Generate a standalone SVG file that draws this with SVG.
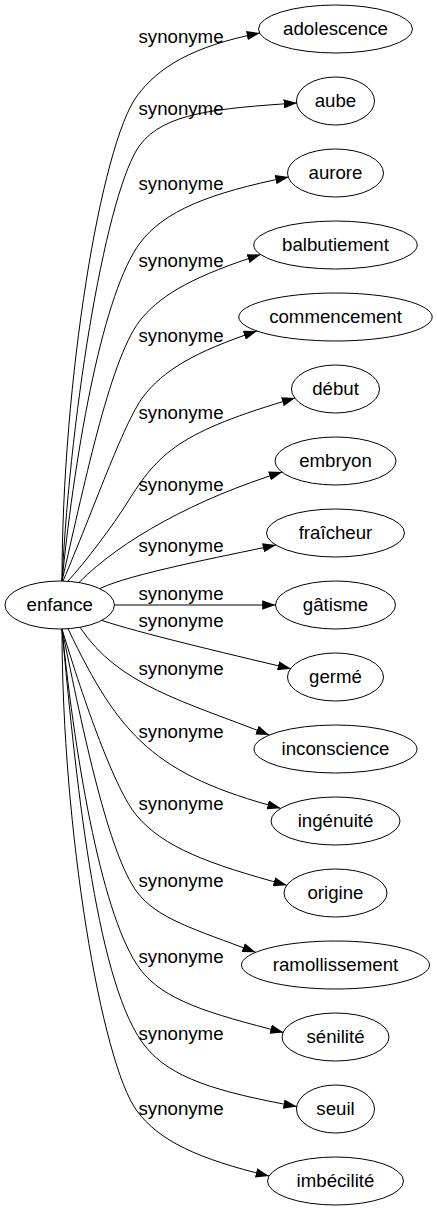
<svg xmlns="http://www.w3.org/2000/svg" width="437" height="1211" viewBox="0 0 437 1211">
<style>
.node ellipse{fill:none;stroke:#000;stroke-width:1}
.node text{font-family:"Liberation Sans",Arial,sans-serif;font-size:18.67px;fill:#000;text-anchor:middle}
.edge{fill:none;stroke:#000;stroke-width:1;marker-end:url(#arr)}
.lbl{font-family:"Liberation Sans",Arial,sans-serif;font-size:18.67px;fill:#000;text-anchor:middle}
</style>
<defs>
<marker id="arr" markerUnits="userSpaceOnUse" markerWidth="13.33" markerHeight="9.33" refX="13.33" refY="4.67" orient="auto" viewBox="0 0 13.33 9.33">
<path d="M0,0 L13.33,4.67 L0,9.33 z" fill="#000"/>
</marker>
</defs>
<rect width="437" height="1211" fill="#fff"/>
<g id="connectors">
<path class="edge" d="M62,581 C62,381 101.3,144.2 137,96 C157.8,67.9 191.3,46.4 260,33"/>
<path class="edge" d="M62,581 C71,402 107.6,188.2 140,145 C164,113 216.2,108.4 297,103"/>
<path class="edge" d="M62,581 C75.9,442.7 104,291 140,243 C164,211 209.3,192.9 288.7,177"/>
<path class="edge" d="M62,581 C86.3,475.8 111.4,353.7 142,318 C163.9,292.4 197,275.3 260.7,254.5"/>
<path class="edge" d="M63,581 C92.8,511.7 123.2,423.4 143,397 C162.8,370.6 194.4,351.9 257,331"/>
<path class="edge" d="M68,581 C85,562.8 113.8,524.3 127,503 C158.8,452 180,431.6 295.2,398"/>
<path class="edge" d="M79,582.5 C121,540 196.2,498.6 282.2,472"/>
<path class="edge" d="M100,588.5 C130,574 220,557 276,545"/>
<path class="edge" d="M114.4,605 L275.5,605"/>
<path class="edge" d="M102,620.5 C140,633 220,652 291,668.8"/>
<path class="edge" d="M80,627.3 C118.5,685.8 185.6,701.7 269.3,735"/>
<path class="edge" d="M68,628.7 C119.6,736.7 155,774.9 280.6,808.3"/>
<path class="edge" d="M62,629 C84.2,702.4 115.1,790.4 137,816 C163.7,847.2 207.6,863.9 286.8,885.2"/>
<path class="edge" d="M62,629 C83.6,734.8 108.8,854.4 137,892 C156.8,918.4 193.9,929.1 255.7,952.3"/>
<path class="edge" d="M62,629 C75.9,767.3 103.4,920.2 140,969 C163.4,1000.2 207.9,1013.2 283.5,1032.5"/>
<path class="edge" d="M62,629 C77.4,799.3 98.5,987.5 145,1046 C170.4,1078 216.1,1091.7 296.8,1106.5"/>
<path class="edge" d="M62,629 C62,829 101.3,1062.8 137,1111 C159,1140.7 198,1159 269,1176"/>
</g>
<g id="edge-labels">
<text class="lbl" x="181" y="43">synonyme</text>
<text class="lbl" x="181" y="115">synonyme</text>
<text class="lbl" x="181" y="190">synonyme</text>
<text class="lbl" x="181" y="267">synonyme</text>
<text class="lbl" x="181" y="342">synonyme</text>
<text class="lbl" x="181" y="419">synonyme</text>
<text class="lbl" x="181" y="491">synonyme</text>
<text class="lbl" x="181" y="552">synonyme</text>
<text class="lbl" x="181" y="600">synonyme</text>
<text class="lbl" x="181" y="627">synonyme</text>
<text class="lbl" x="181" y="675">synonyme</text>
<text class="lbl" x="181" y="738">synonyme</text>
<text class="lbl" x="181" y="810">synonyme</text>
<text class="lbl" x="181" y="887">synonyme</text>
<text class="lbl" x="181" y="963">synonyme</text>
<text class="lbl" x="181" y="1040">synonyme</text>
<text class="lbl" x="181" y="1115">synonyme</text>
</g>
<g id="node-enfance" class="node"><ellipse cx="59.7" cy="605" rx="54.7" ry="24"/><text x="59.7" y="610.7">enfance</text></g>
<g id="node-adolescence" class="node"><ellipse cx="335.5" cy="29" rx="77" ry="24"/><text x="335.5" y="34.7">adolescence</text></g>
<g id="node-aube" class="node"><ellipse cx="335.5" cy="101" rx="39" ry="24"/><text x="335.5" y="106.7">aube</text></g>
<g id="node-aurore" class="node"><ellipse cx="335.5" cy="173" rx="48" ry="24"/><text x="335.5" y="178.7">aurore</text></g>
<g id="node-balbutiement" class="node"><ellipse cx="335.5" cy="245" rx="81.7" ry="24"/><text x="335.5" y="250.7">balbutiement</text></g>
<g id="node-commencement" class="node"><ellipse cx="335.5" cy="317" rx="96.7" ry="24"/><text x="335.5" y="322.7">commencement</text></g>
<g id="node-debut" class="node"><ellipse cx="335.5" cy="389" rx="44" ry="24"/><text x="335.5" y="394.7">début</text></g>
<g id="node-embryon" class="node"><ellipse cx="335.5" cy="461" rx="60.5" ry="24"/><text x="335.5" y="466.7">embryon</text></g>
<g id="node-fraicheur" class="node"><ellipse cx="335.5" cy="533" rx="69" ry="24"/><text x="335.5" y="538.7">fraîcheur</text></g>
<g id="node-gatisme" class="node"><ellipse cx="335.5" cy="605" rx="60" ry="24"/><text x="335.5" y="610.7">gâtisme</text></g>
<g id="node-germe" class="node"><ellipse cx="335.5" cy="677" rx="48" ry="24"/><text x="335.5" y="682.7">germé</text></g>
<g id="node-inconscience" class="node"><ellipse cx="335.5" cy="749" rx="81.5" ry="24"/><text x="335.5" y="754.7">inconscience</text></g>
<g id="node-ingenuite" class="node"><ellipse cx="335.5" cy="821" rx="64.5" ry="24"/><text x="335.5" y="826.7">ingénuité</text></g>
<g id="node-origine" class="node"><ellipse cx="335.5" cy="893" rx="51.5" ry="24"/><text x="335.5" y="898.7">origine</text></g>
<g id="node-ramollissement" class="node"><ellipse cx="335.5" cy="965" rx="94" ry="24"/><text x="335.5" y="970.7">ramollissement</text></g>
<g id="node-senilite" class="node"><ellipse cx="335.5" cy="1037" rx="53.5" ry="24"/><text x="335.5" y="1042.7">sénilité</text></g>
<g id="node-seuil" class="node"><ellipse cx="335.5" cy="1109" rx="39" ry="24"/><text x="335.5" y="1114.7">seuil</text></g>
<g id="node-imbecilite" class="node"><ellipse cx="335.5" cy="1181" rx="68" ry="24"/><text x="335.5" y="1186.7">imbécilité</text></g>
</svg>
